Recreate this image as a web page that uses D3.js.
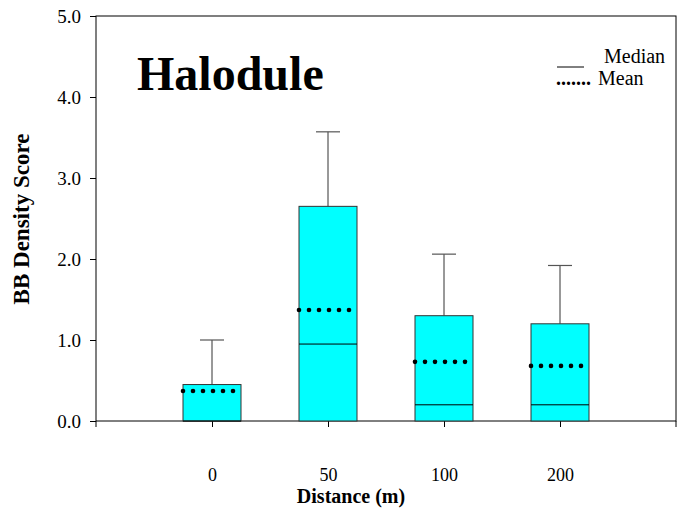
<!DOCTYPE html>
<html><head><meta charset="utf-8">
<script src="https://cdn.jsdelivr.net/npm/d3@7"></script>
<style>body{margin:0;background:#fff}svg{display:block}svg text{font-family:"Liberation Serif","Times New Roman",serif !important}</style>
</head><body><svg id="c" width="678" height="511"></svg>
<script>
const categories = ["0", "50", "100", "200"];
const q1 = [0, 0, 0, 0];
const medians = [0, 0.95, 0.2, 0.2];
const q3 = [0.45, 2.65, 1.3, 1.2];
const whiskerTop = [1.0, 3.57, 2.06, 1.92];
const means = [0.37, 1.37, 0.73, 0.68];
const yTicks = [0, 1, 2, 3, 4, 5];

const svg = d3.select("#c");
const L = 96, R = 676, T = 16, B = 421;
const x = d3.scaleLinear().domain([0, 5]).range([L, R]);
const y = d3.scaleLinear().domain([0, 5]).range([B, T]);
const boxHalf = 29, capHalf = 12;
const FF = "Liberation Serif";

// frame
svg.append("rect").attr("x", L).attr("y", T).attr("width", R - L).attr("height", B - T)
  .attr("fill", "none").attr("stroke", "#000").attr("stroke-width", 1);

// y axis
const ya = svg.append("g").attr("transform", `translate(${L},0)`)
  .call(d3.axisLeft(y).tickValues(yTicks).tickFormat(d3.format(".1f")).tickSize(6).tickSizeOuter(0));
ya.attr("font-family", FF);
ya.select(".domain").remove();
ya.selectAll("text").attr("font-size", 19).attr("fill", "#000").attr("dx", -6);
ya.selectAll("line").attr("stroke", "#000");

// x axis
const xa = svg.append("g").attr("transform", `translate(0,${B})`)
  .call(d3.axisBottom(x).tickValues([1, 2, 3, 4]).tickFormat((d) => categories[d - 1]).tickSize(6).tickSizeOuter(0));
xa.attr("font-family", FF);
xa.select(".domain").remove();
xa.selectAll("text").attr("font-size", 18).attr("fill", "#000").attr("y", 60).attr("dy", 0);
xa.selectAll("line").attr("stroke", "#000");
[0, 5].forEach(v => svg.append("line").attr("x1", x(v)).attr("x2", x(v)).attr("y1", B).attr("y2", B + 6).attr("stroke", "#000"));

const g = svg.append("g");
categories.forEach((c, i) => {
  const cx = x(i + 1);
  g.append("line").attr("x1", cx).attr("x2", cx).attr("y1", y(q3[i])).attr("y2", y(whiskerTop[i])).attr("stroke", "#333");
  g.append("line").attr("x1", cx - capHalf).attr("x2", cx + capHalf).attr("y1", y(whiskerTop[i])).attr("y2", y(whiskerTop[i])).attr("stroke", "#555").attr("stroke-width", 1.2);
  g.append("rect").attr("x", cx - boxHalf).attr("y", y(q3[i])).attr("width", boxHalf * 2).attr("height", y(q1[i]) - y(q3[i]))
    .attr("fill", "#00FFFF").attr("stroke", "#333").attr("stroke-width", 1);
  g.append("line").attr("x1", cx - boxHalf).attr("x2", cx + boxHalf).attr("y1", y(medians[i])).attr("y2", y(medians[i])).attr("stroke", "#000");
  d3.range(6).forEach(k => {
    g.append("circle").attr("cx", cx - boxHalf + k * 10).attr("cy", y(means[i])).attr("r", 2.3).attr("fill", "#000");
  });
});

// titles
svg.append("text").attr("x", 137).attr("y", 90).attr("font-size", 48).attr("font-weight", "bold").text("Halodule");
svg.append("text").attr("transform", "translate(29,219) rotate(-90)").attr("text-anchor", "middle")
  .attr("font-size", 23).attr("font-weight", "bold").text("BB Density Score");
svg.append("text").attr("x", 351).attr("y", 503).attr("text-anchor", "middle")
  .attr("font-size", 20).attr("font-weight", "bold").text("Distance (m)");

// legend
svg.append("line").attr("x1", 557).attr("x2", 584).attr("y1", 67).attr("y2", 67).attr("stroke", "#000");
svg.append("text").attr("x", 604).attr("y", 63).attr("font-size", 20).text("Median");
svg.append("text").attr("x", 556).attr("y", 85).attr("font-size", 20).attr("font-weight", "bold").text(".......");
svg.append("text").attr("x", 598).attr("y", 85).attr("font-size", 20).text("Mean");
</script></body></html>
